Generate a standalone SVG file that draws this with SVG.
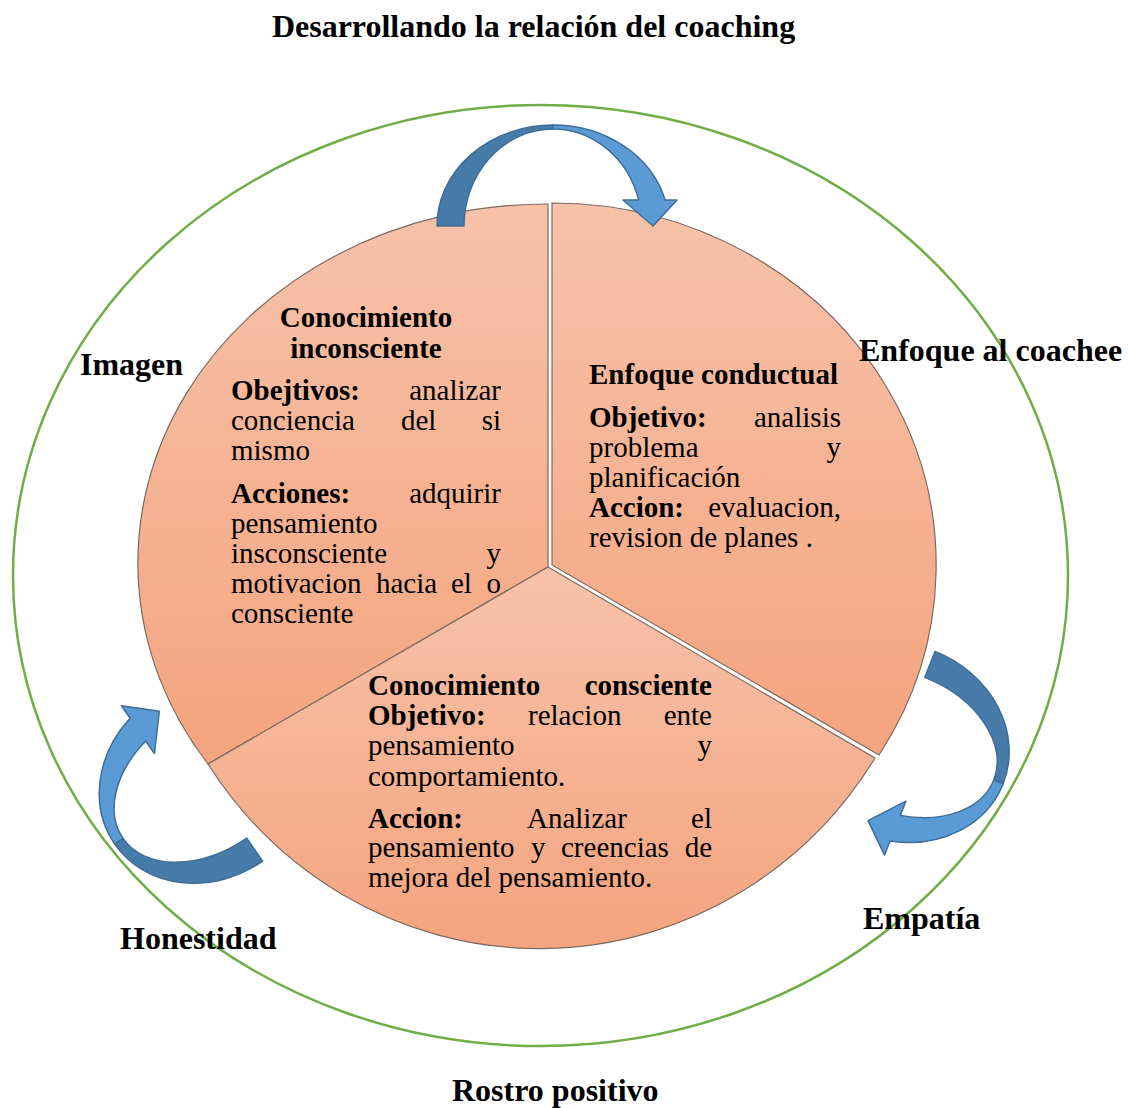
<svg xmlns="http://www.w3.org/2000/svg" width="1129" height="1108" viewBox="0 0 1129 1108">
  <defs>
    <linearGradient id="segFill" x1="0" y1="0" x2="0" y2="1">
      <stop offset="0" stop-color="#F7C2AA"/>
      <stop offset="1" stop-color="#F4A47E"/>
    </linearGradient>
    <style>
      .seg { fill: url(#segFill); stroke: #7B6A60; stroke-width: 1.2; }
      .ring { fill: none; stroke: #70AD47; stroke-width: 2.5; }
      .arrDark { fill: #477BA9; stroke: #3E6D97; stroke-width: 1.5; stroke-linejoin: round; }
      .arrLight { fill: #5B9BD5; stroke: #3E6D97; stroke-width: 1.5; stroke-linejoin: round; }
      text { font-family: "Liberation Serif", "Times New Roman", serif; fill: #000; }
      .lbl { font-size: 32px; font-weight: bold; }
      .body { font-size: 29px; }
      .b { font-weight: bold; }
      .end { text-anchor: end; }
      .mid { text-anchor: middle; }
    </style>
  </defs>

  <rect width="1129" height="1108" fill="#FFFFFF"/>

  <!-- title -->
  <text class="lbl mid" x="533.5" y="37">Desarrollando la relación del coaching</text>

  <!-- outer ring -->
  <ellipse class="ring" cx="540.5" cy="575.5" rx="527.5" ry="470.5"/>

  <!-- top-left sector (justified lines are set word by word) -->
  <g id="conocimiento-inconsciente">
    <path class="seg" d="M548,567 L548,204 A409,359 0 0 0 208,764 Z"/>
    <g class="body">
      <text class="b mid" x="366" y="327">Conocimiento</text>
      <text class="b mid" x="366" y="358">inconsciente</text>
      <text class="b" x="231" y="400">Obejtivos:</text>
      <text class="end" x="501" y="400">analizar</text>
      <text x="231" y="430">conciencia</text>
      <text x="401" y="430">del</text>
      <text class="end" x="501" y="430">si</text>
      <text x="231" y="460">mismo</text>
      <text class="b" x="231" y="503">Acciones:</text>
      <text class="end" x="501" y="503">adquirir</text>
      <text x="231" y="533">pensamiento</text>
      <text x="231" y="563">insconsciente</text>
      <text class="end" x="501" y="563">y</text>
      <text x="231" y="593">motivacion</text>
      <text x="376" y="593">hacia</text>
      <text x="451" y="593">el</text>
      <text class="end" x="501" y="593">o</text>
      <text x="231" y="623">consciente</text>
    </g>
  </g>

  <!-- bottom sector -->
  <g id="conocimiento-consciente">
    <path class="seg" d="M548,567 L875,758 A396,407 0 0 1 208,764 Z"/>
    <g class="body">
      <text class="b" x="368" y="695">Conocimiento</text>
      <text class="b end" x="712" y="695">consciente</text>
      <text class="b" x="368" y="725">Objetivo:</text>
      <text x="528" y="725">relacion</text>
      <text class="end" x="712" y="725">ente</text>
      <text x="368" y="755">pensamiento</text>
      <text class="end" x="712" y="755">y</text>
      <text x="368" y="786">comportamiento.</text>
      <text class="b" x="368" y="828">Accion:</text>
      <text x="527" y="828">Analizar</text>
      <text class="end" x="712" y="828">el</text>
      <text x="368" y="857">pensamiento</text>
      <text x="531" y="857">y</text>
      <text x="561" y="857">creencias</text>
      <text class="end" x="712" y="857">de</text>
      <text x="368" y="887">mejora del pensamiento.</text>
    </g>
  </g>

  <!-- top-right sector, pulled slightly out of the pie -->
  <g id="enfoque-conductual">
    <path class="seg" d="M552,565 L552,203 A384,362 0 0 1 879,755 Z"/>
    <g class="body">
      <text class="b" x="589" y="384">Enfoque conductual</text>
      <text class="b" x="589" y="427">Objetivo:</text>
      <text class="end" x="841" y="427">analisis</text>
      <text x="589" y="457">problema</text>
      <text class="end" x="841" y="457">y</text>
      <text x="589" y="487">planificación</text>
      <text class="b" x="589" y="517">Accion:</text>
      <text class="end" x="841" y="517">evaluacion,</text>
      <text x="589" y="547">revision de planes .</text>
    </g>
  </g>

  <!-- curved arrows: dark back half, light front half with head -->
  <g id="connectors">
    <g transform="translate(553,226)">
      <path class="arrDark" d="M-116,0 A116,101 0 0 1 0,-101 L0,-97 A89,97 0 0 0 -89,0 Z"/>
      <path class="arrLight" d="M0,-101 A116,101 0 0 1 112.1,-26 L124,-26 L100,0 L70,-26 L85.7,-26 A89,97 0 0 0 0,-97 Z"/>
    </g>
    <g transform="translate(899,742.5) rotate(111.6)">
      <path class="arrDark" d="M-98,0 A98,112 0 0 1 0,-112 L0,-102 A70,102 0 0 0 -70,0 Z"/>
      <path class="arrLight" d="M0,-112 A98,112 0 0 1 94.9,-28 L110,-28 L84,0 L52,-28 L67.3,-28 A70,102 0 0 0 0,-102 Z"/>
    </g>
    <g transform="translate(207,780.5) rotate(-124.6)">
      <path class="arrDark" d="M-98,0 A98,112 0 0 1 0,-112 L0,-102 A70,102 0 0 0 -70,0 Z"/>
      <path class="arrLight" d="M0,-112 A98,112 0 0 1 94.9,-28 L110,-28 L84,0 L52,-28 L67.3,-28 A70,102 0 0 0 0,-102 Z"/>
    </g>
  </g>

  <!-- ring labels -->
  <g id="imagen"><text class="lbl" x="80" y="375">Imagen</text></g>
  <g id="enfoque-coachee"><text class="lbl" x="859" y="361">Enfoque al coachee</text></g>
  <g id="honestidad"><text class="lbl" x="120" y="949">Honestidad</text></g>
  <g id="empatia"><text class="lbl" x="863" y="929">Empatía</text></g>
  <g id="rostro-positivo"><text class="lbl" x="452" y="1101">Rostro positivo</text></g>
</svg>
